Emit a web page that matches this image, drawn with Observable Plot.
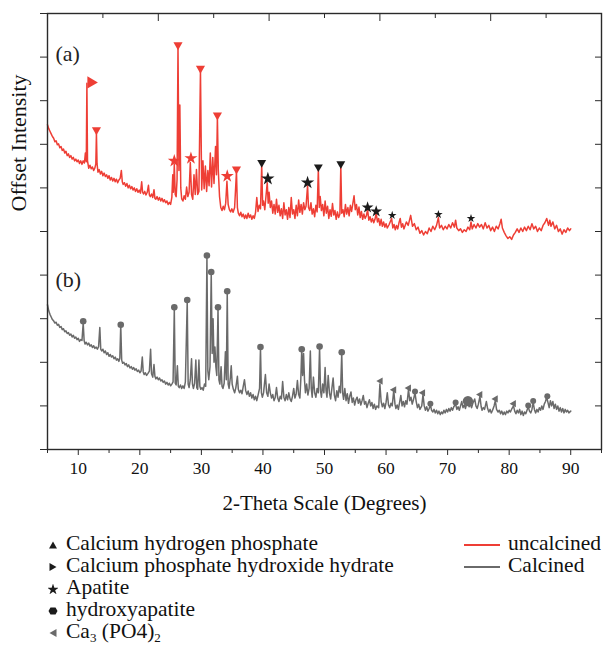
<!DOCTYPE html>
<html>
<head>
<meta charset="utf-8">
<script src="https://cdn.jsdelivr.net/npm/d3@7"></script>
<script src="https://cdn.jsdelivr.net/npm/@observablehq/plot@0.6"></script>
<style>
  html, body { margin: 0; padding: 0; background: #fff; }
  #wrap { position: relative; width: 603px; height: 650px; font-family: "Liberation Serif", "Times New Roman", serif; color: #111; }
  #chart { position: absolute; left: 0; top: 0; }
  .leg { position: absolute; font-family: "Liberation Serif", serif; font-size: 21.5px; line-height: 22px; white-space: nowrap; }
  .leg svg { vertical-align: middle; margin-right: 8px; }
  .leg sub { font-size: 13px; vertical-align: -4px; line-height: 0; }
  .line { display: inline-block; width: 36px; height: 2px; vertical-align: middle; margin-right: 8px; }
</style>
</head>
<body>
<div id="wrap">
  <div id="chart"></div>
  <div id="legend"></div>
</div>
<script>
// ---------- data ----------
const uncalcined = [
[5.0,7.45],[5.2,7.36],[5.4,7.30],[5.6,7.24],[5.8,7.18],[6.0,7.14],[6.2,7.06],[6.4,7.08],[6.6,6.99],[6.8,7.01],
[7.0,6.92],[7.2,6.95],[7.4,6.86],[7.6,6.89],[7.8,6.80],[8.0,6.84],[8.2,6.74],[8.4,6.78],[8.6,6.70],[8.8,6.74],
[9.0,6.66],[9.2,6.70],[9.4,6.62],[9.6,6.66],[9.8,6.60],[10.0,6.64],[10.2,6.56],[10.4,6.62],[10.6,6.54],[10.8,6.62],
[11.0,6.57],[11.15,6.80],[11.3,6.60],[11.4,8.40],[11.5,6.62],[11.7,6.45],[11.9,6.52],[12.1,6.44],[12.3,6.48],[12.5,6.40],
[12.7,6.46],[12.85,6.55],[12.95,7.26],[13.05,6.55],[13.2,6.36],[13.4,6.42],[13.6,6.32],[13.8,6.38],[14.0,6.28],[14.2,6.34],
[14.4,6.26],[14.6,6.30],[14.8,6.22],[15.0,6.28],[15.2,6.18],[15.4,6.24],[15.6,6.16],[15.8,6.22],[16.0,6.14],[16.2,6.20],
[16.4,6.12],[16.6,6.18],[16.8,6.22],[17.0,6.40],[17.15,6.14],[17.3,6.08],[17.5,6.12],[17.7,6.04],[17.9,6.10],[18.1,6.00],
[18.3,6.06],[18.5,5.98],[18.7,6.03],[18.9,5.95],[19.1,6.00],[19.3,5.92],[19.5,5.98],[19.7,5.90],[19.9,5.95],[20.1,5.88],
[20.3,6.14],[20.45,5.90],[20.6,5.86],[20.8,5.92],[21.0,5.84],[21.2,5.90],[21.4,6.06],[21.55,5.84],[21.7,5.80],[21.9,5.86],
[22.1,5.78],[22.3,5.96],[22.45,5.76],[22.6,5.74],[22.8,5.80],[23.0,5.72],[23.2,5.78],[23.4,5.70],[23.6,5.76],[23.8,5.68],
[24.0,5.73],[24.2,5.66],[24.4,5.70],[24.6,5.62],[24.8,5.67],[25.0,5.62],[25.2,5.78],[25.35,6.30],[25.45,5.90],[25.6,6.55],
[25.75,5.85],[25.9,5.80],[26.05,6.20],[26.2,9.25],[26.35,6.40],[26.5,7.90],[26.65,6.00],[26.8,5.75],[27.0,5.70],[27.2,5.82],
[27.4,5.74],[27.6,6.02],[27.8,5.80],[28.0,5.90],[28.2,6.58],[28.4,5.85],[28.6,5.74],[28.8,6.30],[29.0,5.85],[29.2,6.42],
[29.4,5.85],[29.6,5.92],[29.85,8.69],[30.05,5.95],[30.25,6.62],[30.45,5.98],[30.65,6.50],[30.85,5.92],[31.05,6.40],[31.25,6.05],
[31.45,6.80],[31.65,6.02],[31.85,6.70],[32.05,6.10],[32.3,6.95],[32.45,6.30],[32.6,7.62],[32.75,6.40],[32.95,5.80],[33.15,5.55],
[33.35,5.48],[33.55,5.58],[33.75,5.50],[33.95,5.65],[34.15,6.15],[34.35,5.62],[34.55,5.50],[34.75,5.45],[34.95,5.52],[35.15,5.44],
[35.4,5.55],[35.7,6.38],[35.85,5.55],[36.0,5.42],[36.2,5.36],[36.4,5.44],[36.6,5.34],[36.8,5.40],[37.0,5.30],[37.2,5.38],
[37.4,5.30],[37.6,5.42],[37.8,5.32],[38.0,5.38],[38.2,5.28],[38.4,5.36],[38.6,5.30],[38.8,5.44],[39.0,5.78],[39.2,5.46],
[39.4,5.60],[39.6,5.52],[39.8,6.52],[39.95,5.60],[40.1,5.70],[40.3,5.50],[40.5,5.82],[40.7,6.12],[40.85,5.65],[41.0,5.90],
[41.2,5.55],[41.4,5.70],[41.6,5.42],[41.8,5.62],[42.0,5.40],[42.2,5.74],[42.4,5.44],[42.6,5.60],[42.8,5.36],[43.0,5.52],
[43.2,5.30],[43.4,5.66],[43.6,5.38],[43.8,5.50],[44.0,5.28],[44.2,5.55],[44.4,5.32],[44.6,5.78],[44.8,5.40],[45.0,5.50],
[45.2,5.30],[45.4,5.60],[45.6,5.36],[45.8,5.72],[46.0,5.44],[46.2,5.62],[46.4,5.40],[46.6,5.66],[46.8,5.50],[47.0,5.58],
[47.25,6.05],[47.4,5.55],[47.6,5.48],[47.8,5.66],[48.0,5.40],[48.2,5.52],[48.4,5.34],[48.6,5.60],[48.8,5.45],[49.0,6.42],
[49.15,5.55],[49.3,5.80],[49.5,5.48],[49.7,5.62],[49.9,5.36],[50.1,5.70],[50.3,5.42],[50.5,5.58],[50.7,5.30],[50.9,5.50],
[51.1,5.35],[51.3,5.64],[51.5,5.38],[51.7,5.48],[51.9,5.28],[52.1,5.45],[52.3,5.32],[52.5,5.40],[52.65,6.50],[52.8,5.42],
[53.0,5.50],[53.2,5.34],[53.4,5.62],[53.6,5.40],[53.8,5.55],[54.0,5.36],[54.2,5.60],[54.4,5.46],[54.6,5.64],[54.8,5.82],
[55.0,5.50],[55.2,5.62],[55.4,5.38],[55.6,5.56],[55.8,5.32],[56.0,5.46],[56.2,5.28],[56.4,5.40],[56.6,5.30],[56.8,5.36],
[57.0,5.50],[57.2,5.26],[57.4,5.34],[57.6,5.22],[57.8,5.30],[58.0,5.20],[58.2,5.28],[58.4,5.42],[58.6,5.22],[58.8,5.30],
[59.0,5.14],[59.2,5.28],[59.4,5.12],[59.6,5.22],[59.8,5.10],[60.0,5.18],[60.2,5.08],[60.5,5.16],[60.9,5.30],[61.1,5.08],
[61.3,5.16],[61.5,5.04],[61.7,5.14],[61.9,5.06],[62.1,5.20],[62.3,5.30],[62.5,5.10],[62.7,5.18],[62.9,5.06],[63.0,5.10],
[63.3,5.22],[63.6,5.14],[64.0,5.37],[64.3,5.12],[64.6,5.18],[64.9,5.04],[65.2,5.10],[65.5,4.96],[65.8,5.02],[66.1,4.92],
[66.4,5.00],[66.7,4.95],[67.0,5.08],[67.3,5.00],[67.6,5.12],[67.9,5.04],[68.2,5.14],[68.5,5.32],[68.7,5.08],[69.0,5.14],
[69.3,5.04],[69.6,5.12],[69.9,5.06],[70.2,5.16],[70.5,5.08],[70.8,5.20],[71.1,5.10],[71.3,5.26],[71.5,5.08],[71.8,5.02],
[72.1,5.06],[72.4,4.98],[72.7,5.04],[73.0,5.00],[73.3,5.10],[73.6,5.04],[73.8,5.22],[74.0,5.06],[74.3,5.16],[74.6,5.08],
[74.9,5.18],[75.2,5.10],[75.5,5.16],[75.8,5.06],[76.1,5.20],[76.4,5.08],[76.7,5.14],[77.0,5.02],[77.3,5.10],[77.6,5.00],
[77.9,5.12],[78.2,5.06],[78.5,5.18],[78.7,5.28],[78.9,5.08],[79.2,4.98],[79.5,4.90],[79.8,4.84],[80.1,4.88],[80.4,4.82],
[80.7,4.92],[81.0,4.98],[81.3,5.06],[81.6,4.98],[81.9,5.08],[82.2,5.00],[82.5,5.10],[82.8,5.02],[83.1,5.12],[83.4,5.04],
[83.7,5.18],[84.0,5.06],[84.3,5.12],[84.6,5.00],[84.9,5.08],[85.2,5.02],[85.5,5.14],[85.8,5.20],[86.1,5.30],[86.4,5.14],
[86.6,5.26],[86.8,5.12],[87.1,5.22],[87.4,5.06],[87.7,5.14],[88.0,5.00],[88.3,5.06],[88.6,4.94],[88.9,5.04],[89.2,4.98],
[89.5,5.08],[89.8,5.02],[90.0,5.06]
];

const calcined = [
[5.0,3.32],[5.2,3.18],[5.4,3.10],[5.6,3.04],[5.8,2.98],[6.0,2.95],[6.2,2.90],[6.4,2.92],[6.6,2.85],[6.8,2.87],
[7.0,2.80],[7.2,2.82],[7.4,2.75],[7.6,2.77],[7.8,2.70],[8.0,2.72],[8.2,2.66],[8.4,2.68],[8.6,2.62],[8.8,2.65],
[9.0,2.58],[9.2,2.62],[9.4,2.55],[9.6,2.58],[9.8,2.52],[10.0,2.55],[10.2,2.48],[10.4,2.52],[10.6,2.50],[10.8,2.90],
[10.95,2.50],[11.1,2.42],[11.3,2.46],[11.5,2.40],[11.7,2.44],[11.9,2.37],[12.1,2.40],[12.3,2.34],[12.5,2.38],[12.7,2.32],
[12.9,2.35],[13.1,2.30],[13.3,2.36],[13.5,2.80],[13.65,2.30],[13.8,2.26],[14.0,2.30],[14.2,2.22],[14.4,2.26],[14.6,2.18],
[14.8,2.22],[15.0,2.14],[15.2,2.18],[15.4,2.12],[15.6,2.15],[15.8,2.08],[16.0,2.12],[16.2,2.05],[16.4,2.08],[16.6,2.02],
[16.75,2.10],[16.9,2.85],[17.05,2.05],[17.2,1.98],[17.4,2.00],[17.6,1.94],[17.8,1.97],[18.0,1.90],[18.2,1.94],[18.4,1.87],
[18.6,1.90],[18.8,1.84],[19.0,1.88],[19.2,1.82],[19.4,1.85],[19.6,1.79],[19.8,1.82],[20.0,1.76],[20.2,1.80],[20.4,2.12],
[20.55,1.78],[20.7,1.72],[20.9,1.76],[21.1,1.70],[21.3,1.74],[21.55,1.80],[21.75,2.30],[21.9,1.74],[22.1,1.66],[22.3,1.95],
[22.45,1.68],[22.6,1.62],[22.8,1.66],[23.0,1.60],[23.2,1.64],[23.4,1.57],[23.6,1.60],[23.8,1.54],[24.0,1.57],[24.2,1.50],
[24.4,1.54],[24.6,1.48],[24.8,1.52],[25.0,1.46],[25.2,1.50],[25.4,1.55],[25.6,3.22],[25.75,1.52],[25.9,1.48],[26.1,1.92],
[26.25,1.45],[26.4,1.42],[26.6,1.48],[26.8,1.40],[27.0,1.46],[27.2,1.40],[27.4,1.55],[27.7,3.40],[27.85,1.50],[28.0,1.42],
[28.2,1.60],[28.4,2.08],[28.55,1.50],[28.7,1.40],[28.9,1.52],[29.1,2.05],[29.25,1.42],[29.4,1.38],[29.6,2.05],[29.75,1.45],
[29.9,1.38],[30.1,1.42],[30.3,1.36],[30.5,1.50],[30.7,1.45],[30.9,4.42],[31.05,1.80],[31.2,1.60],[31.4,1.90],[31.6,4.04],
[31.75,2.20],[31.9,3.00],[32.05,2.00],[32.2,2.35],[32.35,1.90],[32.5,1.70],[32.7,3.22],[32.85,1.60],[33.0,1.50],[33.2,1.90],
[33.35,1.45],[33.5,1.40],[33.7,1.52],[33.9,2.24],[34.05,1.60],[34.2,3.60],[34.35,1.50],[34.5,1.40],[34.7,1.65],[34.85,1.92],
[35.0,1.50],[35.2,1.38],[35.4,1.30],[35.6,1.42],[35.85,1.68],[36.0,1.38],[36.2,1.30],[36.4,1.36],[36.6,1.28],[36.8,1.45],
[37.0,1.60],[37.2,1.35],[37.4,1.26],[37.6,1.34],[37.8,1.22],[38.0,1.30],[38.2,1.18],[38.4,1.26],[38.6,1.14],[38.8,1.22],
[39.0,1.12],[39.2,1.24],[39.45,1.40],[39.6,2.32],[39.75,1.30],[39.9,1.20],[40.1,1.30],[40.4,1.72],[40.6,1.30],[40.8,1.22],
[41.0,1.50],[41.2,1.30],[41.4,1.18],[41.6,1.26],[41.8,1.12],[42.0,1.20],[42.2,1.42],[42.4,1.18],[42.6,1.10],[42.8,1.22],
[43.0,1.16],[43.2,1.56],[43.4,1.20],[43.6,1.12],[43.8,1.26],[44.0,1.14],[44.2,1.30],[44.4,1.16],[44.6,1.10],[44.8,1.22],
[45.0,1.40],[45.2,1.18],[45.4,1.28],[45.6,1.58],[45.8,1.26],[46.0,1.18],[46.15,1.60],[46.3,2.28],[46.45,1.70],[46.6,2.20],
[46.75,1.60],[46.9,1.30],[47.1,1.50],[47.3,1.25],[47.5,1.40],[47.7,2.26],[47.85,1.40],[48.0,1.20],[48.2,1.66],[48.4,1.30],
[48.6,1.20],[48.8,1.40],[49.0,1.30],[49.2,2.34],[49.35,1.35],[49.5,1.20],[49.7,1.50],[49.9,1.30],[50.1,1.88],[50.25,1.35],
[50.4,1.20],[50.6,1.70],[50.8,1.30],[51.0,1.16],[51.2,1.40],[51.4,1.64],[51.6,1.25],[51.8,1.12],[52.0,1.35],[52.2,1.20],
[52.4,1.45],[52.6,1.30],[52.8,2.20],[52.95,1.30],[53.1,1.15],[53.3,1.40],[53.5,1.12],[53.7,1.28],[53.9,1.06],[54.1,1.22],
[54.3,1.32],[54.5,1.08],[54.7,1.18],[54.9,1.02],[55.1,1.14],[55.3,1.20],[55.5,1.06],[55.7,1.16],[55.9,1.02],[56.1,1.12],
[56.3,1.24],[56.5,1.04],[56.7,1.10],[56.9,0.96],[57.1,1.06],[57.3,1.14],[57.5,1.00],[57.7,1.08],[57.9,0.94],[58.1,1.04],
[58.3,0.92],[58.5,1.00],[58.8,0.96],[59.0,1.50],[59.2,1.10],[59.4,0.98],[59.6,1.06],[59.8,0.94],[60.0,1.08],[60.2,1.30],
[60.4,1.02],[60.6,0.96],[60.8,1.06],[61.0,1.00],[61.25,1.36],[61.45,1.04],[61.6,0.94],[61.8,1.02],[62.0,0.92],[62.2,1.08],
[62.4,1.24],[62.6,1.00],[62.8,1.10],[63.0,0.98],[63.2,1.12],[63.4,1.04],[63.65,1.38],[63.85,1.12],[64.05,1.20],[64.25,1.04],
[64.45,1.14],[64.7,1.30],[64.9,1.10],[65.1,0.96],[65.3,1.04],[65.5,0.92],[65.8,1.00],[66.0,1.26],[66.2,1.00],[66.4,0.90],
[66.6,0.98],[66.8,0.88],[67.0,0.94],[67.2,1.02],[67.4,0.90],[67.6,0.86],[67.8,0.92],[68.0,0.84],[68.2,0.90],[68.4,0.82],
[68.6,0.88],[68.8,0.80],[69.0,0.86],[69.2,0.82],[69.4,0.90],[69.6,0.84],[69.8,0.92],[70.0,0.86],[70.2,0.94],[70.4,0.88],
[70.6,0.96],[70.8,0.90],[71.0,0.98],[71.3,1.04],[71.5,0.92],[71.7,0.98],[71.9,0.90],[72.1,1.00],[72.3,1.10],[72.5,0.96],
[72.7,1.02],[72.9,0.94],[73.1,1.06],[73.3,1.06],[73.5,0.98],[73.7,1.04],[73.9,0.96],[74.1,1.06],[74.4,1.16],[74.6,1.00],
[74.8,0.94],[75.0,1.04],[75.25,1.22],[75.45,0.98],[75.6,0.90],[75.8,0.96],[76.0,0.92],[76.3,1.10],[76.5,0.94],[76.7,0.86],
[76.9,0.92],[77.1,0.84],[77.3,0.90],[77.55,1.00],[77.75,1.12],[77.95,0.92],[78.2,0.86],[78.4,0.90],[78.6,0.82],[78.8,0.88],
[79.0,0.80],[79.2,0.86],[79.4,0.80],[79.6,0.88],[79.8,0.84],[80.0,0.90],[80.2,0.86],[80.45,0.94],[80.7,1.00],[80.9,0.88],
[81.1,0.82],[81.3,0.90],[81.5,0.84],[81.7,0.92],[81.9,0.80],[82.1,0.88],[82.3,0.78],[82.5,0.86],[82.7,0.82],[82.9,0.90],
[83.1,0.98],[83.3,0.88],[83.5,0.84],[83.7,0.92],[83.9,1.08],[84.1,0.92],[84.3,0.84],[84.5,0.92],[84.7,0.86],[84.9,0.96],
[85.1,0.90],[85.3,1.00],[85.5,0.92],[85.7,1.04],[85.9,1.10],[86.1,1.20],[86.3,1.08],[86.5,0.96],[86.7,1.12],[86.9,1.00],
[87.1,1.10],[87.3,0.94],[87.5,1.04],[87.7,0.92],[87.9,1.00],[88.1,0.88],[88.3,0.96],[88.5,0.86],[88.7,0.94],[88.9,0.84],
[89.1,0.92],[89.3,0.86],[89.5,0.90],[89.7,0.84],[90.0,0.88]
];

// phase markers (x = 2θ, y = offset intensity)
const redDownTriangles   = [[12.95,7.33],[26.2,9.28],[29.85,8.74],[32.6,7.67],[35.7,6.43]];
const redRightTriangles  = [[11.4,8.42]];
const redStars           = [[25.6,6.62],[28.3,6.68],[34.2,6.27]];
const blackDownTriangles = [[39.8,6.58],[49.0,6.48],[52.65,6.55]];
const blackStarsLarge    = [[40.8,6.21],[47.25,6.12]];
const blackStarsMid      = [[57.0,5.55],[58.4,5.46]];
const blackStarsSmall    = [[61.0,5.37],[68.5,5.39],[73.8,5.30]];
const grayDots           = [[10.8,2.94],[16.9,2.86],[25.6,3.26],[27.7,3.43],[30.9,4.45],[31.6,4.07],[32.7,3.26],[34.2,3.63],[39.6,2.35],[46.3,2.30],[49.2,2.36],[52.8,2.23]];
const grayDotsTail       = [[64.7,1.33],[67.2,1.05],[71.3,1.08],[83.1,1.01],[83.9,1.11],[86.2,1.22]];
const grayDotBig         = [[73.3,1.11]];
const grayLeftTriangles  = [[59.1,1.57],[61.3,1.37],[63.7,1.41],[66.0,1.30],[75.3,1.26],[77.8,1.16],[80.75,1.05]];

const panelLabels = [{label: "(a)", x: 6.3, y: 9.08}, {label: "(b)", x: 6.3, y: 3.88}];

const xMajor = [10, 20, 30, 40, 50, 60, 70, 80, 90];
const xMinor = [5, 15, 25, 35, 45, 55, 65, 75, 85, 95];
const topMajor = [23, 41, 59, 77];
const topMinor = [14, 32, 50, 68, 86];
const yTicks = [0, 1, 2, 3, 4, 5, 6, 7, 8, 9, 10];

const xTitle = "2-Theta Scale (Degrees)";
const yTitle = "Offset Intensity";

const RED = "#ee3e35";
const GRAY = "#6a6a6a";
const INK = "#1b1b1b";
const AX = "#2a2a2a";

const X = d => d[0], Y = d => d[1];

const chart = Plot.plot({
  width: 603,
  height: 522,
  marginLeft: 47,
  marginRight: 2,
  marginTop: 13,
  marginBottom: 73,
  style: {fontFamily: "'Liberation Serif', serif", fontSize: "17px", color: "#111", background: "#fff"},
  x: {domain: [5, 95]},
  y: {domain: [0, 10]},
  marks: [
    Plot.line(uncalcined, {x: X, y: Y, stroke: RED, strokeWidth: 1.5}),
    Plot.line(calcined, {x: X, y: Y, stroke: GRAY, strokeWidth: 1.5}),
    Plot.dot(redDownTriangles, {x: X, y: Y, symbol: "triangle", rotate: 180, r: 3.4, fill: RED, stroke: null}),
    Plot.dot(redRightTriangles, {x: X, y: Y, symbol: "triangle", rotate: 90, r: 4.5, dx: 4, fill: RED, stroke: null}),
    Plot.dot(redStars, {x: X, y: Y, symbol: "star", r: 4.1, fill: RED, stroke: null}),
    Plot.dot(blackDownTriangles, {x: X, y: Y, symbol: "triangle", rotate: 180, r: 3.3, fill: INK, stroke: null}),
    Plot.dot(blackStarsLarge, {x: X, y: Y, symbol: "star", r: 4.2, fill: INK, stroke: null}),
    Plot.dot(blackStarsMid, {x: X, y: Y, symbol: "star", r: 3.7, fill: INK, stroke: null}),
    Plot.dot(blackStarsSmall, {x: X, y: Y, symbol: "star", r: 2.7, fill: INK, stroke: null}),
    Plot.dot(grayDots, {x: X, y: Y, r: 3.3, fill: GRAY, stroke: null}),
    Plot.dot(grayDotsTail, {x: X, y: Y, r: 3.0, fill: GRAY, stroke: null}),
    Plot.dot(grayDotBig, {x: X, y: Y, r: 5.2, fill: GRAY, stroke: null}),
    Plot.dot(grayLeftTriangles, {x: X, y: Y, symbol: "triangle", rotate: -90, r: 2.7, fill: GRAY, stroke: null}),
    Plot.text(panelLabels, {x: "x", y: "y", text: "label", textAnchor: "start", fontSize: 22, fill: "#222"}),
    Plot.frame({stroke: AX, strokeWidth: 1.4}),
    Plot.axisX(xMajor, {anchor: "bottom", tickSize: 6, tickPadding: 6, stroke: AX, label: null, fontSize: 17.5}),
    Plot.axisX(xMinor, {anchor: "bottom", tickSize: 4, tickFormat: () => "", stroke: AX, label: null}),
    Plot.axisX(topMajor, {anchor: "top", tickSize: -7, tickFormat: () => "", stroke: AX, label: null}),
    Plot.axisX(topMinor, {anchor: "top", tickSize: -4, tickFormat: () => "", stroke: AX, label: null}),
    Plot.axisY(yTicks, {anchor: "left", tickSize: 7, tickFormat: () => "", stroke: AX, label: null}),
    Plot.axisY(yTicks, {anchor: "right", tickSize: -7, tickFormat: () => "", stroke: AX, label: null}),
    Plot.text([xTitle], {frameAnchor: "bottom", dy: 60, fontSize: 21, fill: "#111"}),
    Plot.text([yTitle], {frameAnchor: "left", dx: -29, dy: -20, rotate: -90, fontSize: 22, fill: "#111"})
  ]
});
document.getElementById("chart").appendChild(chart);

// ---------- legend (HTML below the SVG) ----------
const phaseLegend = [
  {name: "Calcium hydrogen phosphate", shape: "up", color: INK},
  {name: "Calcium phosphate hydroxide hydrate", shape: "right", color: INK},
  {name: "Apatite", shape: "star", color: INK},
  {name: "hydroxyapatite", shape: "hex", color: INK},
  {name: "Ca<sub>3</sub> (PO4)<sub>2</sub>", shape: "left", color: GRAY}
];
const seriesLegend = [
  {name: "uncalcined", color: RED},
  {name: "Calcined", color: GRAY}
];
function glyph(shape, color) {
  let p = "";
  if (shape === "up") p = `<polygon points="5,1.5 9,8.5 1,8.5" fill="${color}"/>`;
  if (shape === "right") p = `<polygon points="1.5,1 8.5,5 1.5,9" fill="${color}"/>`;
  if (shape === "left") p = `<polygon points="8.5,1 1.5,5 8.5,9" fill="${color}"/>`;
  if (shape === "star") p = `<path d="${d3.symbol(d3.symbolStar, 40)()}" transform="translate(5,5.5)" fill="${color}"/>`;
  if (shape === "hex") p = `<polygon points="2.5,1.5 7.5,1.5 9.5,5 7.5,8.5 2.5,8.5 0.5,5" fill="${color}"/>`;
  return `<svg width="10" height="10" viewBox="0 0 10 10">${p}</svg>`;
}
const legend = document.getElementById("legend");
phaseLegend.forEach((d, i) => {
  const el = document.createElement("div");
  el.className = "leg";
  el.style.left = "48px";
  el.style.top = (532 + i * 22) + "px";
  el.innerHTML = glyph(d.shape, d.color) + d.name;
  legend.appendChild(el);
});
seriesLegend.forEach((d, i) => {
  const el = document.createElement("div");
  el.className = "leg";
  el.style.left = "464px";
  el.style.top = (532 + i * 22) + "px";
  el.innerHTML = `<span class="line" style="background:${d.color}"></span>` + d.name;
  legend.appendChild(el);
});
</script>
</body>
</html>
